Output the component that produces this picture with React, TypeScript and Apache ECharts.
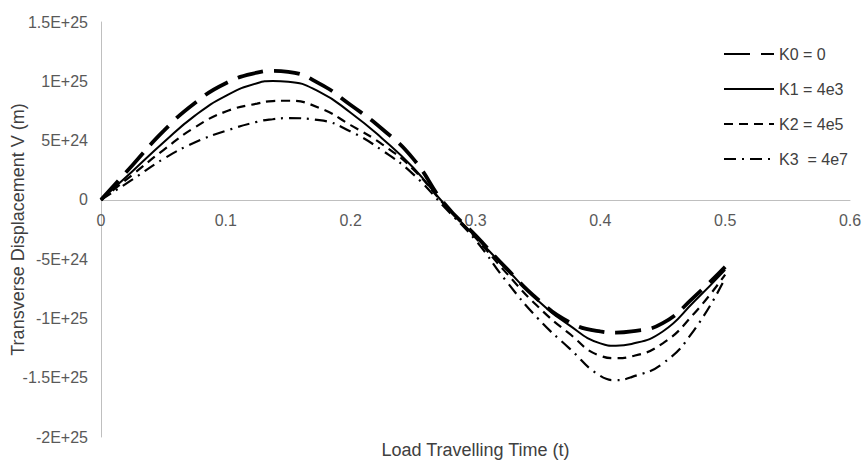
import React, { useEffect, useRef } from "react";
import * as echarts from "echarts";

const times = [0, 0.025, 0.05, 0.075, 0.1, 0.125, 0.1375, 0.15, 0.175, 0.2, 0.225, 0.25, 0.275, 0.3, 0.325, 0.35, 0.375, 0.4, 0.4125, 0.425, 0.45, 0.475, 0.5];

const k0 = [0, 2.9e24, 5.8e24, 8.15e24, 9.84e24, 10.73e24, 10.88e24, 10.8e24, 9.8e24, 8.0e24, 6.0e24, 3.48e24, -0.3e24, -3.0e24, -5.8e24, -8.4e24, -10.3e24, -11.1e24, -11.2e24, -11.1e24, -10.4e24, -8.2e24, -5.65e24];
const k1 = [0, 2.4e24, 4.83e24, 7.08e24, 8.77e24, 9.84e24, 10.02e24, 9.97e24, 9.1e24, 7.35e24, 5.2e24, 2.73e24, -0.35e24, -3.1e24, -5.85e24, -8.5e24, -10.57e24, -12.1e24, -12.3e24, -12.15e24, -11.1e24, -8.6e24, -5.9e24];
const k2 = [0, 2.1e24, 4.2e24, 6.1e24, 7.45e24, 8.12e24, 8.33e24, 8.36e24, 7.75e24, 6.3e24, 4.7e24, 2.59e24, -0.4e24, -3.2e24, -6.2e24, -9.0e24, -11.27e24, -13.15e24, -13.35e24, -13.2e24, -12.1e24, -9.6e24, -6.3e24];
const k3 = [0, 1.7e24, 3.45e24, 4.83e24, 5.82e24, 6.58e24, 6.8e24, 6.89e24, 6.72e24, 5.76e24, 4.19e24, 2.17e24, -0.6e24, -3.4e24, -6.9e24, -10.0e24, -12.5e24, -14.85e24, -15.2e24, -14.95e24, -13.8e24, -11.0e24, -6.6e24];

const seriesNames = ["K0 = 0", "K1 = 4e3", "K2 = 4e5", "K3  = 4e7"];
const xAxisTitle = "Load Travelling Time (t)";
const yAxisTitle = "Transverse Displacement V (m)";

const pair = (ys: number[]) => times.map((t, i) => [t, ys[i]]);

export default function App() {
  const ref = useRef<HTMLDivElement>(null);
  useEffect(() => {
    if (!ref.current) return;
    const chart = echarts.init(ref.current, undefined, { renderer: "svg" });
    const font = "'Liberation Sans', Arial, sans-serif";
    const gridTop = 22;
    const gridBottom = 24;
    const plotH = 461 - gridTop - gridBottom;
    const zeroFromBottom = plotH * (2 / 3.5);
    const mk = (name: string, data: number[][], width: number, type: any) => ({
      name,
      type: "line",
      data,
      smooth: true,
      symbol: "none",
      showSymbol: false,
      lineStyle: { color: "#000", width, type },
      itemStyle: { color: "#000" },
    });
    chart.setOption({
      animation: false,
      backgroundColor: "#fff",
      grid: { left: 101, right: 12, top: gridTop, bottom: gridBottom, containLabel: false, outerBoundsMode: "none" },
      legend: {
        orient: "vertical",
        left: 718,
        top: 41,
        itemWidth: 50,
        itemHeight: 14,
        itemGap: 19,
        itemStyle: { opacity: 0 },
        textStyle: { fontFamily: font, fontSize: 16, color: "#404040" },
        data: seriesNames,
      },
      xAxis: {
        type: "value",
        min: 0,
        max: 0.6,
        interval: 0.1,
        offset: -zeroFromBottom,
        name: xAxisTitle,
        nameLocation: "middle",
        nameGap: 241,
        nameMoveOverlap: false,
        nameTextStyle: { fontFamily: font, fontSize: 18, color: "#404040" },
        axisLine: { onZero: false, lineStyle: { color: "#bfbfbf", width: 1 } },
        axisTick: { show: false },
        splitLine: { show: false },
        axisLabel: {
          fontFamily: font,
          fontSize: 16,
          color: "#595959",
          margin: 13,
          formatter: (v: number) => (v === 0 ? "0" : String(Number(v.toFixed(1)))),
        },
      },
      yAxis: {
        type: "value",
        min: -2e25,
        max: 1.5e25,
        interval: 5e24,
        name: yAxisTitle,
        nameLocation: "middle",
        nameGap: 74,
        nameMoveOverlap: false,
        nameTextStyle: { fontFamily: font, fontSize: 18, color: "#404040" },
        axisLine: { show: true, onZero: false, lineStyle: { color: "#bfbfbf", width: 1 } },
        axisTick: { show: false },
        splitLine: { show: false },
        axisLabel: {
          fontFamily: font,
          fontSize: 16,
          color: "#595959",
          margin: 13,
          formatter: (v: number) => {
            if (Math.abs(v) < 1e10) return "0";
            return Number(v.toPrecision(3)).toExponential().toUpperCase();
          },
        },
      },
      series: [
        mk(seriesNames[0], pair(k0), 3.8, [26, 11]),
        mk(seriesNames[1], pair(k1), 2, "solid"),
        mk(seriesNames[2], pair(k2), 2.2, [9, 6]),
        mk(seriesNames[3], pair(k3), 2.2, [12, 6, 2, 6]),
      ],
    });
    return () => chart.dispose();
  }, []);
  return <div ref={ref} style={{ position: "absolute", left: 0, top: 0, width: 862, height: 461 }} />;
}
